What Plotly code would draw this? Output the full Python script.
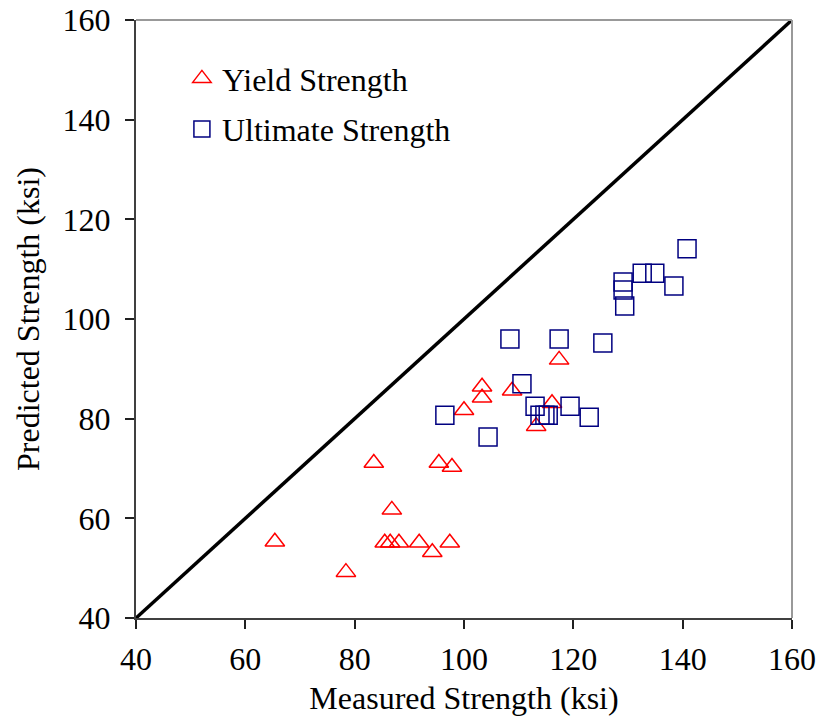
import plotly.graph_objects as go

# Yield strength (measured, predicted) in ksi
yield_measured = [65.4, 78.4, 83.5, 85.5, 86.5, 86.8, 88.1, 91.8, 94.2, 95.4,
                  97.8, 97.4, 100.0, 103.3, 103.3, 108.8, 113.2, 116.1, 117.4]
yield_predicted = [55.3, 49.2, 71.1, 55.1, 55.1, 61.7, 55.1, 55.1, 53.2, 71.1,
                   70.3, 55.1, 81.7, 86.4, 84.2, 85.6, 78.5, 83.1, 91.8]

# Ultimate strength (measured, predicted) in ksi
ult_measured = [96.5, 104.4, 108.4, 110.6, 113.0, 113.9, 114.8, 115.4, 117.4, 119.4,
                122.9, 125.4, 129.1, 129.1, 129.4, 132.6, 134.9, 138.4, 140.8]
ult_predicted = [80.7, 76.3, 96.0, 87.0, 82.5, 80.7, 80.7, 80.7, 96.0, 82.5,
                 80.3, 95.2, 107.4, 105.8, 102.6, 109.2, 109.2, 106.6, 114.1]

# 1:1 reference line
line_x = [40, 160]
line_y = [40, 160]

tick_vals = [40, 60, 80, 100, 120, 140, 160]

FONT = "Liberation Serif, Times New Roman, serif"

fig = go.Figure()

fig.add_trace(go.Scatter(
    x=line_x, y=line_y, mode="lines",
    line=dict(color="black", width=3.5),
    showlegend=False, hoverinfo="skip"))

fig.add_trace(go.Scatter(
    x=yield_measured, y=yield_predicted, mode="markers",
    name="Yield Strength", legendgroup="a",
    marker=dict(symbol="triangle-up", size=17, color="rgba(0,0,0,0)",
                line=dict(color="#ff0000", width=1.5))))

fig.add_trace(go.Scatter(
    x=ult_measured, y=ult_predicted, mode="markers",
    name="Ultimate Strength", legendgroup="b",
    marker=dict(symbol="square", size=18, color="rgba(0,0,0,0)",
                line=dict(color="#000080", width=1.5))))

axis_common = dict(
    range=[40, 160], tickvals=tick_vals, showgrid=False, zeroline=False,
    showline=True, linecolor="#404040", linewidth=2, automargin=False,
    ticks="outside", ticklen=9, tickwidth=1.5, tickcolor="#202020",
    tickfont=dict(family=FONT, size=32, color="black"),
    title_font=dict(family=FONT, size=32, color="black"),
)

fig.update_layout(
    width=822, height=721,
    margin=dict(l=136, r=30, t=20, b=103),
    paper_bgcolor="white", plot_bgcolor="white",
    xaxis=dict(axis_common, title=dict(text="Measured Strength (ksi)", standoff=10),
               ticklabelstandoff=3),
    yaxis=dict(axis_common, ticklabelstandoff=8),
    legend=dict(x=0.07, y=0.948, xanchor="left", yanchor="top",
                bgcolor="rgba(0,0,0,0)", borderwidth=0,
                font=dict(family=FONT, size=32, color="black"),
                itemwidth=30, tracegroupgap=6, traceorder="grouped"),
    annotations=[
        dict(text="Predicted Strength (ksi)", xref="paper", yref="paper",
             x=0, y=0.5, xanchor="center", yanchor="middle", xshift=-108,
             textangle=-90, showarrow=False,
             font=dict(family=FONT, size=32, color="black")),
    ],
    shapes=[
        dict(type="line", xref="paper", yref="paper", x0=0, x1=1, y0=1, y1=1,
             line=dict(color="#999999", width=2)),
        dict(type="line", xref="paper", yref="paper", x0=1, x1=1, y0=0, y1=1,
             line=dict(color="#999999", width=2)),
    ],
    showlegend=True,
)

fig.write_html("out.html")
